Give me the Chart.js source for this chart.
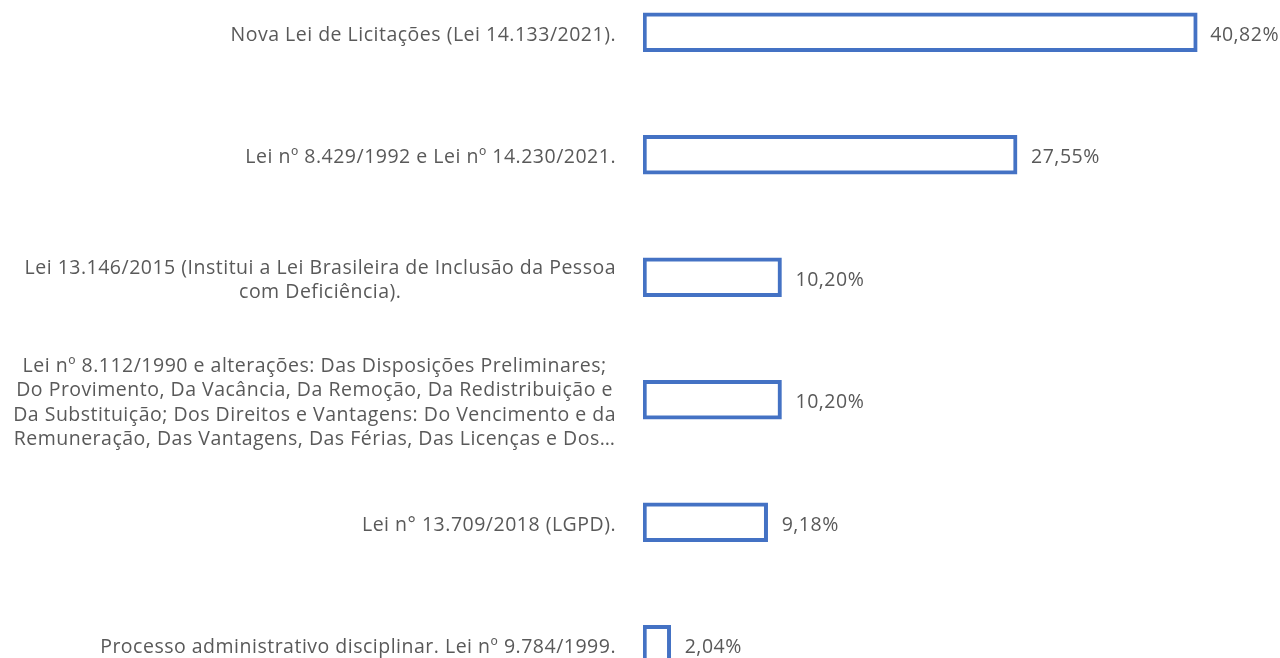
<!DOCTYPE html>
<html>
<head>
<meta charset="utf-8">
<script src="https://cdn.jsdelivr.net/npm/chart.js@4/dist/chart.umd.min.js"></script>
<style>
    html, body { margin: 0; padding: 0; background: #fff; overflow: hidden; width: 1280px; height: 658px; }
    #wrap { position: absolute; left: 0; top: -29px; }
</style>
</head>
<body>
<div id="wrap"><canvas id="lawsChart" width="1280" height="735"></canvas></div>
<script>
const categories = [
    ['Nova Lei de Licitações (Lei 14.133/2021).'],
    ['Lei nº 8.429/1992 e Lei nº 14.230/2021.'],
    ['Lei 13.146/2015 (Institui a Lei Brasileira de Inclusão da Pessoa', 'com Deficiência).'],
    ['Lei nº 8.112/1990 e alterações: Das Disposições Preliminares;',
     'Do Provimento, Da Vacância, Da Remoção, Da Redistribuição e',
     'Da Substituição; Dos Direitos e Vantagens: Do Vencimento e da',
     'Remuneração, Das Vantagens, Das Férias, Das Licenças e Dos…'],
    ['Lei n° 13.709/2018 (LGPD).'],
    ['Processo administrativo disciplinar. Lei nº 9.784/1999.']
];
const percentages = [40.82, 27.55, 10.20, 10.20, 9.18, 2.04];

const textColor = '#595959';
const labelFont = '19.5px "Open Sans"';

function fmt(v) {
    return v.toFixed(2).replace('.', ',') + '%';
}

// category labels: each block right-aligned next to the bars, lines centred inside the block
const categoryLabels = {
    id: 'categoryLabels',
    afterDraw(chart) {
        const ctx = chart.ctx;
        const yScale = chart.scales.y;
        const rightEdge = chart.chartArea.left - 27;
        const lineHeight = 24.5;
        ctx.save();
        ctx.font = labelFont;
        ctx.letterSpacing = '0.5px';
        ctx.fillStyle = textColor;
        ctx.textAlign = 'center';
        ctx.textBaseline = 'middle';
        categories.forEach(function (lines, i) {
            const y = yScale.getPixelForValue(i) + 3;
            let maxW = 0;
            lines.forEach(function (l) { maxW = Math.max(maxW, ctx.measureText(l).width); });
            const cx = rightEdge - maxW / 2;
            const top = y - (lines.length - 1) * lineHeight / 2;
            lines.forEach(function (l, j) {
                ctx.fillText(l, cx, top + j * lineHeight);
            });
        });
        ctx.restore();
    }
};

// value labels at the end of each bar
const valueLabels = {
    id: 'valueLabels',
    afterDatasetsDraw(chart) {
        const ctx = chart.ctx;
        const meta = chart.getDatasetMeta(0);
        ctx.save();
        ctx.font = labelFont;
        ctx.letterSpacing = '0.5px';
        ctx.fillStyle = textColor;
        ctx.textAlign = 'left';
        ctx.textBaseline = 'middle';
        meta.data.forEach(function (bar, i) {
            const txt = fmt(percentages[i]);
            const w = ctx.measureText(txt).width;
            const x = Math.min(bar.x + 14, chart.width - w - 1);
            ctx.fillText(txt, x, bar.y + 3);
        });
        ctx.restore();
    }
};

const ctx = document.getElementById('lawsChart').getContext('2d');
new Chart(ctx, {
    type: 'bar',
    data: {
        labels: categories.map(function (c) { return c.join(' '); }),
        datasets: [{
            data: percentages,
            backgroundColor: '#ffffff',
            borderColor: '#4472C4',
            borderWidth: 4,
            borderSkipped: false,
            barThickness: 39
        }]
    },
    options: {
        indexAxis: 'y',
        responsive: false,
        animation: false,
        layout: { padding: { left: 643, right: 26, top: 0, bottom: 0 } },
        scales: {
            x: { display: false, min: 0, max: 45 },
            y: { display: false, grid: { display: false } }
        },
        plugins: {
            legend: { display: false },
            tooltip: { enabled: false }
        }
    },
    plugins: [categoryLabels, valueLabels]
});
</script>
</body>
</html>
